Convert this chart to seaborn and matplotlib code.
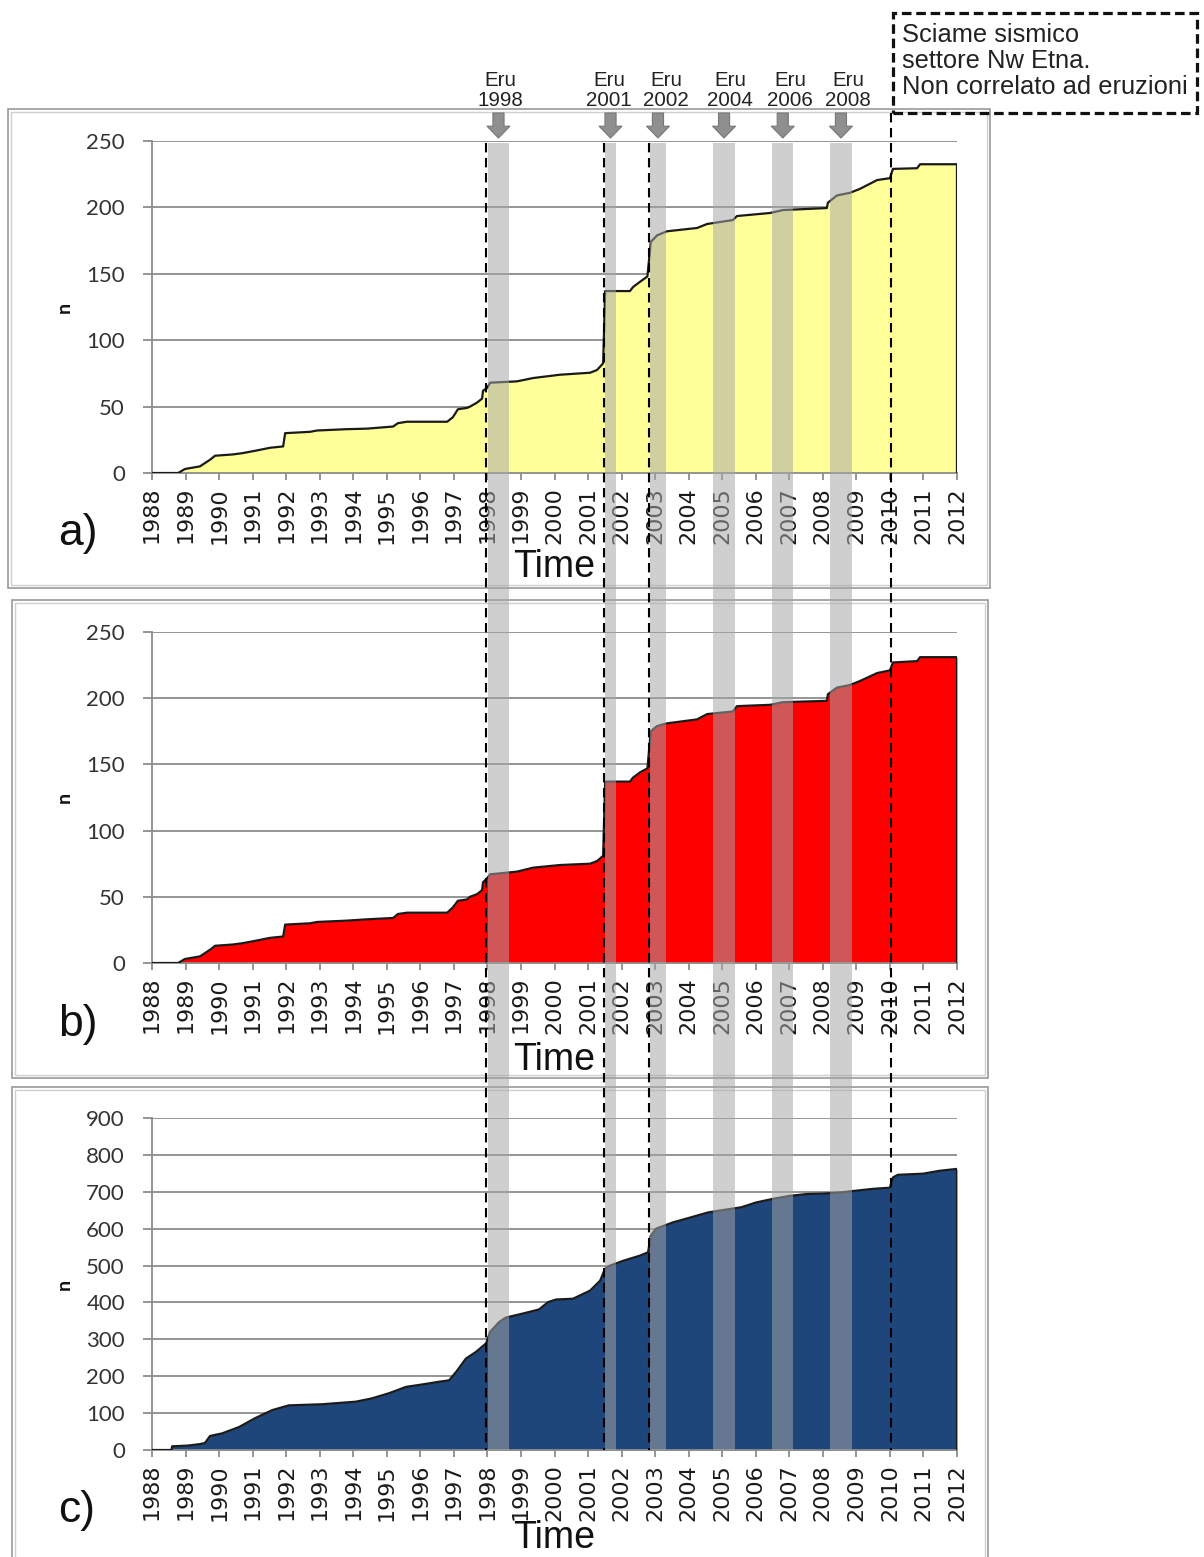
import matplotlib
matplotlib.use("Agg")
import matplotlib.pyplot as plt
import seaborn as sns
import pandas as pd
from matplotlib.patches import Rectangle, FancyArrowPatch
from matplotlib.lines import Line2D
from matplotlib.transforms import blended_transform_factory

# ---------------- data ----------------
years = list(range(1988, 2013))
year_labels = [str(y) for y in years]

time_a = [1988.00, 1988.78, 1988.98, 1989.43, 1989.73, 1989.88, 1990.42, 1990.71, 1991.13, 1991.52,
          1991.91, 1991.97, 1992.71, 1992.92, 1993.81, 1994.41, 1995.19, 1995.33, 1995.60, 1996.80,
          1996.97, 1997.12, 1997.39, 1997.48, 1997.69, 1997.84, 1997.87, 1997.99, 1998.08, 1998.88,
          1999.36, 2000.16, 2001.06, 2001.27, 2001.45, 2001.51, 2002.25, 2002.34, 2002.55, 2002.77,
          2002.87, 2003.06, 2003.35, 2004.25, 2004.55, 2005.32, 2005.44, 2006.43, 2006.81, 2008.12,
          2008.15, 2008.42, 2008.81, 2009.11, 2009.62, 2010.00, 2010.09, 2010.81, 2010.90, 2012.00]
count_a = [0, 0, 3, 5, 10, 13, 14, 15, 17, 19,
           20, 30, 31, 32, 33, 33.4, 35, 37.5, 38.6, 38.6,
           42, 48, 49, 50, 53, 56, 62, 64, 68, 69,
           71.5, 74, 75.5, 77.6, 82.6, 137, 137, 140, 144, 148,
           174, 179, 182, 184.5, 187.5, 190.5, 193.5, 195.8, 198, 199.5,
           203.5, 209, 211, 214, 220.6, 222, 229, 229.5, 232.5, 232.5]

time_b = list(time_a)
count_b = [0, 0, 3, 5, 10, 13, 14, 15, 17, 19,
           20, 29, 30, 31, 32, 33, 34, 37, 38, 38,
           42, 47, 48, 50, 52, 55, 61, 64, 67, 69,
           72, 74, 75, 77, 81, 137, 137, 140, 144, 147,
           175, 179, 181, 184, 188, 190, 194, 195, 197, 198,
           203, 208, 210, 213, 219, 221, 227, 228, 231, 231]

time_c = [1988.00, 1988.58, 1988.60, 1989.07, 1989.43, 1989.58, 1989.73, 1990.09, 1990.59, 1991.07,
          1991.58, 1992.08, 1993.07, 1994.08, 1994.56, 1995.07, 1995.57, 1996.08, 1996.56, 1996.86,
          1997.07, 1997.36, 1997.66, 1997.96, 1998.08, 1998.35, 1998.55, 1999.06, 1999.54, 1999.81,
          2000.05, 2000.55, 2001.06, 2001.36, 2001.51, 2001.66, 2002.05, 2002.55, 2002.79, 2002.87,
          2003.03, 2003.53, 2004.08, 2004.58, 2005.06, 2005.57, 2006.01, 2006.52, 2007.02, 2007.53,
          2008.01, 2008.51, 2008.99, 2009.50, 2010.00, 2010.09, 2010.24, 2010.99, 2011.49, 2012.00]
count_c = [0, 0, 10, 12, 16, 19, 38, 45, 62, 86,
           108, 121, 124, 131, 140, 154, 171, 178, 185, 189,
           212, 248, 266, 289, 320, 347, 359, 370, 381, 401,
           408, 410, 432, 459, 492, 500, 513, 527, 536, 581,
           600, 617, 631, 644, 651, 658, 671, 681, 689, 694,
           695, 698, 703, 708, 711, 739, 746, 749, 757, 762]

yticks_ab = [0, 50, 100, 150, 200, 250]
yticks_c = [0, 100, 200, 300, 400, 500, 600, 700, 800, 900]

eruption_names = ["1998", "2001", "2002", "2004", "2006", "2008"]
eruption_start = [1998.02, 2001.51, 2002.85, 2004.73, 2006.49, 2008.21]
eruption_end = [1998.64, 2001.83, 2003.32, 2005.38, 2007.12, 2008.87]
eruption_label_x = [1998.38, 2001.63, 2003.33, 2005.23, 2007.02, 2008.75]
onset_lines = [1997.96, 2001.48, 2002.82]
swarm_line = 2010.03
swarm_text = "Sciame sismico\nsettore Nw Etna.\nNon correlato ad eruzioni"

# ---------------- figure ----------------
sns.set_style("white")
plt.rcParams["font.family"] = ["Liberation Sans", "DejaVu Sans"]

W, H = 1204, 1557
fig = plt.figure(figsize=(W / 100, H / 100), dpi=100)
fig.patch.set_facecolor("white")


def fx(px):
    return px / W


def fy(py):
    return 1 - py / H


AX_L, AX_R = 152, 957
panels = [
    # top_px, bottom_px, time, count, fill, yticks, letter, letter_baseline, time_baseline
    (141, 473, time_a, count_a, "#ffff99", yticks_ab, "a)", 545, 577),
    (632, 963, time_b, count_b, "#ff0000", yticks_ab, "b)", 1036, 1070),
    (1118, 1450, time_c, count_c, "#1f467b", yticks_c, "c)", 1522, 1548),
]

grid_col = "#8c8c8c"
axes = []
for top, bot, t, c, fill, yt, letter, let_y, time_y in panels:
    ax = fig.add_axes([fx(AX_L), fy(bot), (AX_R - AX_L) / W, (bot - top) / H])
    axes.append(ax)
    df = pd.DataFrame({"Time": t, "n": c})
    ax.fill_between(df["Time"], df["n"], 0, color=fill, lw=0, zorder=1)
    sns.lineplot(data=df, x="Time", y="n", ax=ax, color="#1a1a1a", lw=1.6,
                 estimator=None, sort=False, zorder=3)
    ax.vlines(t[-1], 0, c[-1], color="#1a1a1a", lw=1.6, zorder=3)

    ax.set_xlim(1988, 2012)
    ax.set_ylim(0, yt[-1])
    ax.set_xticks(years)
    ax.set_xticklabels(year_labels, rotation=90, fontfamily="DejaVu Sans",
                       fontsize=16, color="#1a1a1a")
    ax.set_yticks(yt)
    ax.set_yticklabels([str(v) for v in yt], fontfamily="Lato", fontsize=16,
                       color="#333333")
    ax.grid(axis="y", color=grid_col, lw=1.3)
    ax.grid(axis="x", visible=False)
    ax.set_axisbelow(True)
    for s in ["top", "right"]:
        ax.spines[s].set_visible(False)
    for s in ["left", "bottom"]:
        ax.spines[s].set_color(grid_col)
        ax.spines[s].set_linewidth(1.3)
    ax.tick_params(axis="x", direction="out", length=5, width=1.3,
                   color=grid_col, pad=5, bottom=True)
    ax.tick_params(axis="y", direction="out", length=6.5, width=1.3,
                   color=grid_col, pad=13, left=True)

    ax.set_xlabel("Time", fontsize=27, fontfamily="Liberation Sans", color="#111111")
    ax.xaxis.label.set_va("baseline")
    ax.xaxis.set_label_coords(0.5, -(time_y - bot) / (bot - top))
    ax.set_ylabel("n", fontsize=14, fontweight="bold", fontfamily="Lato",
                  color="#111111", rotation=90)
    ax.yaxis.label.set_va("center")
    ax.yaxis.set_label_coords((64 - AX_L) / (AX_R - AX_L), 0.5)

    fig.text(fx(58), fy(let_y), letter, fontsize=32, fontfamily="Liberation Sans",
             ha="left", va="baseline", color="#111111")

# ---------------- panel frames ----------------
frames = [(8, 109, 990, 588), (12, 600, 988, 1078), (12, 1087, 988, 1575)]
for x0, y0, x1, y1 in frames:
    fig.add_artist(Rectangle((fx(x0), fy(y1)), fx(x1) - fx(x0), fy(y0) - fy(y1),
                             transform=fig.transFigure, fill=False,
                             edgecolor="#9a9a9a", lw=1.2, zorder=0))
    fig.add_artist(Rectangle((fx(x0 + 3), fy(y1 - 3)), fx(x1 - 3) - fx(x0 + 3),
                             fy(y0 + 3) - fy(y1 - 3),
                             transform=fig.transFigure, fill=False,
                             edgecolor="#cfcfcf", lw=1.0, zorder=0))

# ---------------- eruption bands, arrows, lines ----------------
trans = blended_transform_factory(axes[0].transData, fig.transFigure)
band_top, band_bot = fy(143), fy(1450)
for s, e, name, lx in zip(eruption_start, eruption_end, eruption_names, eruption_label_x):
    fig.add_artist(Rectangle((s, band_bot), e - s, band_top - band_bot, transform=trans,
                             facecolor=(0.65, 0.65, 0.65), alpha=0.53, lw=0, zorder=5))
    xc = (s + e) / 2
    fig.add_artist(FancyArrowPatch(
        posA=(xc, fy(113)), posB=(xc, fy(138)), transform=trans,
        arrowstyle="simple,head_length=0.85,head_width=1.65,tail_width=0.8",
        mutation_scale=10, facecolor="#8f8f8f", edgecolor="#777777", lw=0.8,
        shrinkA=0, shrinkB=0, zorder=6))
    fig.text(lx, fy(90.5), f"Eru\n{name}", transform=trans, ha="center",
             va="center", fontsize=14.8, linespacing=1.0,
             fontfamily="Liberation Sans", color="#222222")

for xl in onset_lines:
    fig.add_artist(Line2D([xl, xl], [band_top, band_bot], transform=trans,
                          color="black", lw=1.5, linestyle=(0, (4.5, 2.7)), zorder=6))
fig.add_artist(Line2D([swarm_line, swarm_line], [fy(113), band_bot], transform=trans,
                      color="black", lw=1.5, linestyle=(0, (4.5, 2.7)), zorder=6))

# swarm annotation box
fig.add_artist(Rectangle((fx(893), fy(113)), fx(1197) - fx(893), fy(13) - fy(113),
                         transform=fig.transFigure, fill=False, edgecolor="#111111",
                         lw=2.3, linestyle=(0, (3, 1.5)), zorder=6))
fig.text(fx(902), fy(61), swarm_text, ha="left", va="center", fontsize=18.4,
         linespacing=1.08, fontfamily="Liberation Sans", color="#222222")

fig.savefig("out.png", dpi=100, facecolor="white")
